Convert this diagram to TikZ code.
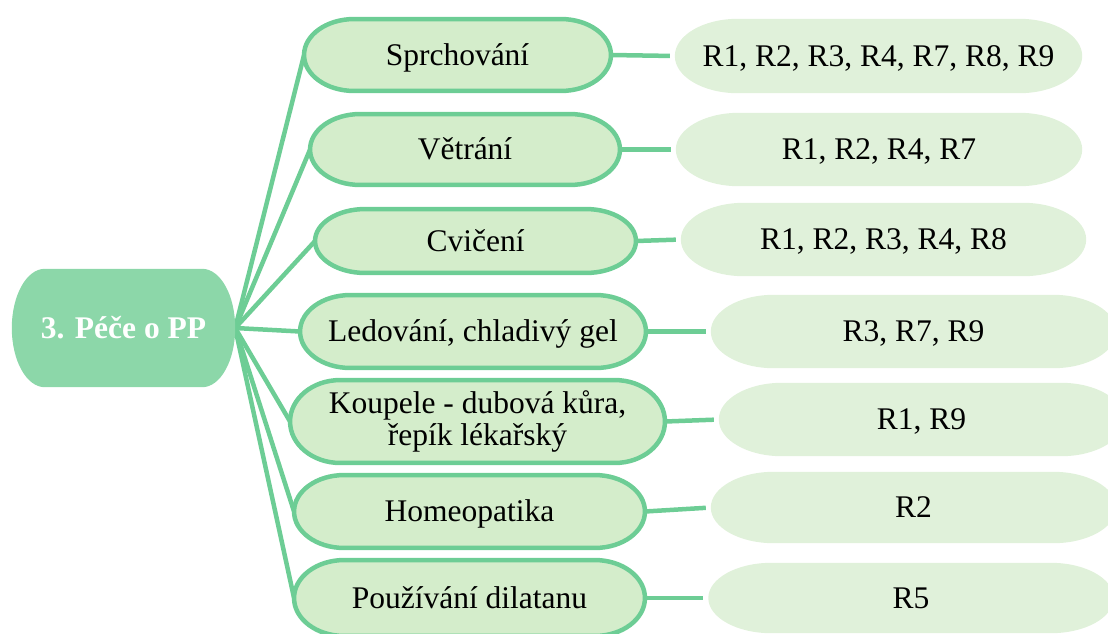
\documentclass[tikz,border=0pt]{standalone}
\usepackage{fontspec}
\setmainfont{Liberation Serif}
\usetikzlibrary{backgrounds,calc}

\definecolor{rootfill}{RGB}{140,215,169}
\definecolor{linkgreen}{RGB}{109,205,149}
\definecolor{itemfill}{RGB}{212,237,203}
\definecolor{codefill}{RGB}{224,241,218}

% outline of a box with elliptical ends; #1 = node name, #2 = horizontal radius of the ends
\newcommand\pillpath[2]{%
  let \p1=(#1.north west), \p2=(#1.south east), \n1={(\y1-\y2)/2} in
  (\x1+#2,\y1) -- (\x2-#2,\y1)
  arc[start angle=90,end angle=-90,x radius=#2,y radius=\n1]
  -- (\x1+#2,\y2)
  arc[start angle=270,end angle=90,x radius=#2,y radius=\n1] -- cycle}

\tikzset{
  base/.style={rectangle, inner sep=0pt, font=\fontsize{31.5}{32}\selectfont},
  capline/.style={text height=20.8pt, text depth=0pt},
  rootbox/.style={base, capline, text=white, font=\fontsize{31.5}{32}\selectfont\bfseries},
  itembox/.style={base},
  codebox/.style={base, capline},
  link/.style={draw=linkgreen, line width=4.5pt},
  itemshape/.style={fill=itemfill, draw=linkgreen, line width=4.5pt},
}

\begin{document}
\begin{tikzpicture}[x=1pt,y=-1pt]
\useasboundingbox (0,0) rectangle (1108,633);

% centre node
\node[rootbox, minimum width=223pt, minimum height=118pt] (root) at (123.5,328) {3. Péče o PP};

% care methods
\node[itembox, capline, minimum width=306.5pt, minimum height=71.5pt] (m1) at (457.5,55) {Sprchování};
\node[itembox, capline, minimum width=309.5pt, minimum height=70.5pt] (m2) at (465,149.5) {Větrání};
\node[itembox, capline, minimum width=320.5pt, minimum height=63.5pt] (m3) at (475.5,241) {Cvičení};
\node[itembox, capline, minimum width=345.5pt, minimum height=72.5pt] (m4) at (473,331.5) {Ledování, chladivý gel};
\node[itembox, align=center, minimum width=374.5pt, minimum height=82.5pt] (m5) at (477.5,421.5) {Koupele - dubová kůra,\\řepík lékařský};
\node[itembox, capline, minimum width=350.5pt, minimum height=72.5pt] (m6) at (469.5,511.5) {Homeopatika};
\node[itembox, capline, minimum width=350.5pt, minimum height=75.5pt] (m7) at (469.5,598) {Používání dilatanu};

% references
\node[codebox, minimum width=407pt, minimum height=74pt] (r1) at (878.5,56) {R1, R2, R3, R4, R7, R8, R9};
\node[codebox, minimum width=406pt, minimum height=73pt] (r2) at (879,149.5) {R1, R2, R4, R7};
\node[codebox, minimum width=405pt, minimum height=73pt] (r3) at (883.5,239.5) {R1, R2, R3, R4, R8};
\node[codebox, minimum width=405pt, minimum height=73pt] (r4) at (913.5,331.5) {R3, R7, R9};
\node[codebox, minimum width=405pt, minimum height=73pt] (r5) at (921.5,419.5) {R1, R9};
\node[codebox, minimum width=405pt, minimum height=71pt] (r6) at (913.5,507.5) {R2};
\node[codebox, minimum width=405pt, minimum height=70pt] (r7) at (911,598) {R5};

\begin{scope}[on background layer]
  % connectors
  \foreach \m in {m1,m2,m3,m4,m5,m6,m7}
    \draw[link] (root.east) -- (\m.west);
  \foreach \m/\r in {m1/r1,m2/r2,m3/r3,m4/r4,m5/r5,m6/r6,m7/r7}
    \draw[link, shorten >=5pt] (\m.east) -- (\r.west);
  % shapes
  \fill[rootfill] \pillpath{root}{33pt};
  \foreach \r in {r1,r2,r3,r4,r5,r6,r7}
    \fill[codefill] \pillpath{\r}{63pt};
  \foreach \m in {m1,m2,m3,m4,m5,m6,m7}
    \path[itemshape] \pillpath{\m}{50pt};
\end{scope}
\end{tikzpicture}
\end{document}
